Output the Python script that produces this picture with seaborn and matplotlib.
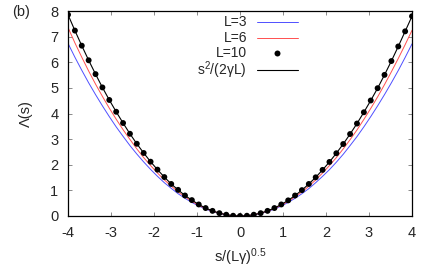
import numpy as np
import pandas as pd
import matplotlib
matplotlib.use("Agg")
import matplotlib.pyplot as plt
from matplotlib.lines import Line2D
import seaborn as sns

x_vals = [-4.00, -3.84, -3.68, -3.52, -3.36, -3.20, -3.04, -2.88, -2.72, -2.56,
          -2.40, -2.24, -2.08, -1.92, -1.76, -1.60, -1.44, -1.28, -1.12, -0.96,
          -0.80, -0.64, -0.48, -0.32, -0.16, 0.00, 0.16, 0.32, 0.48, 0.64,
          0.80, 0.96, 1.12, 1.28, 1.44, 1.60, 1.76, 1.92, 2.08, 2.24,
          2.40, 2.56, 2.72, 2.88, 3.04, 3.20, 3.36, 3.52, 3.68, 3.84, 4.00]

lam_L3 = [6.74, 6.20, 5.69, 5.20, 4.74, 4.30, 3.88, 3.48, 3.11, 2.75,
          2.42, 2.11, 1.82, 1.55, 1.30, 1.08, 0.87, 0.69, 0.53, 0.39,
          0.27, 0.17, 0.10, 0.04, 0.01, 0.00, 0.01, 0.04, 0.10, 0.17,
          0.27, 0.39, 0.53, 0.69, 0.87, 1.07, 1.30, 1.55, 1.81, 2.10,
          2.41, 2.75, 3.10, 3.48, 3.88, 4.30, 4.74, 5.20, 5.68, 6.19, 6.72]

lam_L6 = [7.36, 6.76, 6.20, 5.66, 5.15, 4.67, 4.21, 3.78, 3.37, 2.99,
          2.62, 2.28, 1.97, 1.68, 1.41, 1.17, 0.94, 0.75, 0.57, 0.42,
          0.29, 0.19, 0.11, 0.05, 0.01, 0.00, 0.01, 0.05, 0.11, 0.19,
          0.29, 0.42, 0.57, 0.75, 0.94, 1.16, 1.41, 1.68, 1.97, 2.28,
          2.62, 2.98, 3.36, 3.77, 4.20, 4.65, 5.13, 5.63, 6.15, 6.69, 7.25]

lam_L10 = [7.86, 7.24, 6.65, 6.08, 5.54, 5.02, 4.53, 4.07, 3.63, 3.21,
           2.82, 2.46, 2.12, 1.81, 1.52, 1.25, 1.02, 0.80, 0.62, 0.45,
           0.31, 0.20, 0.11, 0.05, 0.01, 0.00, 0.01, 0.05, 0.11, 0.20,
           0.31, 0.45, 0.61, 0.80, 1.01, 1.25, 1.51, 1.80, 2.11, 2.45,
           2.81, 3.20, 3.61, 4.05, 4.51, 4.99, 5.51, 6.05, 6.62, 7.21, 7.80]

lam_theory = lam_L10

series_labels = ["L=3", "L=6", "L=10", "s$^{2}$/(2γL)"]
x_ticks = [-4, -3, -2, -1, 0, 1, 2, 3, 4]
y_ticks = [0, 1, 2, 3, 4, 5, 6, 7, 8]

sns.set_style("ticks")
plt.rcParams["font.family"] = ["Liberation Sans", "DejaVu Sans"]
plt.rcParams["mathtext.fontset"] = "custom"
plt.rcParams["mathtext.rm"] = "Liberation Sans"
plt.rcParams["mathtext.it"] = "Liberation Sans"

FS = 10.5
BLUE = "#4f4fff"
RED = "#ff4f4f"

df = pd.DataFrame({"x": x_vals, "L3": lam_L3, "L6": lam_L6,
                   "L10": lam_L10, "th": lam_theory})

W, H = 436, 271
fig = plt.figure(figsize=(W / 100, H / 100), dpi=100)
ax = fig.add_axes([0.156, 0.203, 0.789, 0.756])

sns.lineplot(data=df, x="x", y="L3", ax=ax, color=BLUE, lw=0.7)
sns.lineplot(data=df, x="x", y="L6", ax=ax, color=RED, lw=0.7)
sns.lineplot(data=df, x="x", y="th", ax=ax, color="black", lw=0.8, zorder=3)
sns.scatterplot(data=df, x="x", y="L10", ax=ax, color="black", s=18,
                edgecolor="none", zorder=4)

ax.set_xlim(-4, 4)
ax.set_ylim(0, 8)
ax.set_xticks(x_ticks)
ax.set_yticks(y_ticks)
ax.set_xticklabels([str(t) for t in x_ticks], fontsize=FS)
ax.set_yticklabels([str(t) for t in y_ticks], fontsize=FS)
ax.tick_params(direction="in", length=3, width=0.6, color="#777777",
               top=True, right=True, pad=7)
for s in ax.spines.values():
    s.set_linewidth(0.9)
    s.set_color("black")

ax.set_xlabel("s/(Lγ)$^{0.5}$", fontsize=FS, labelpad=5)
ax.set_ylabel("Λ(s)", fontsize=FS, labelpad=12)

# gnuplot-style key: text right-aligned, sample to its right
rows_px = [22, 38, 53, 70]
styles = [dict(color=BLUE, lw=0.7), dict(color=RED, lw=0.7), None,
          dict(color="black", lw=0.8)]
for lab, ypx, st in zip(series_labels, rows_px, styles):
    yf = 1 - ypx / H
    fig.text(247 / W, yf, lab, fontsize=10, ha="right", va="center")
    if st is None:
        fig.add_artist(Line2D([277 / W], [yf], marker="o", ms=4.3,
                              color="black", mec="none", ls="none"))
    else:
        fig.add_artist(Line2D([257 / W, 298 / W], [yf, yf], **st))

fig.text(0.028, 0.955, "(b)", fontsize=FS, va="center")

fig.savefig("out.png", dpi=100)
